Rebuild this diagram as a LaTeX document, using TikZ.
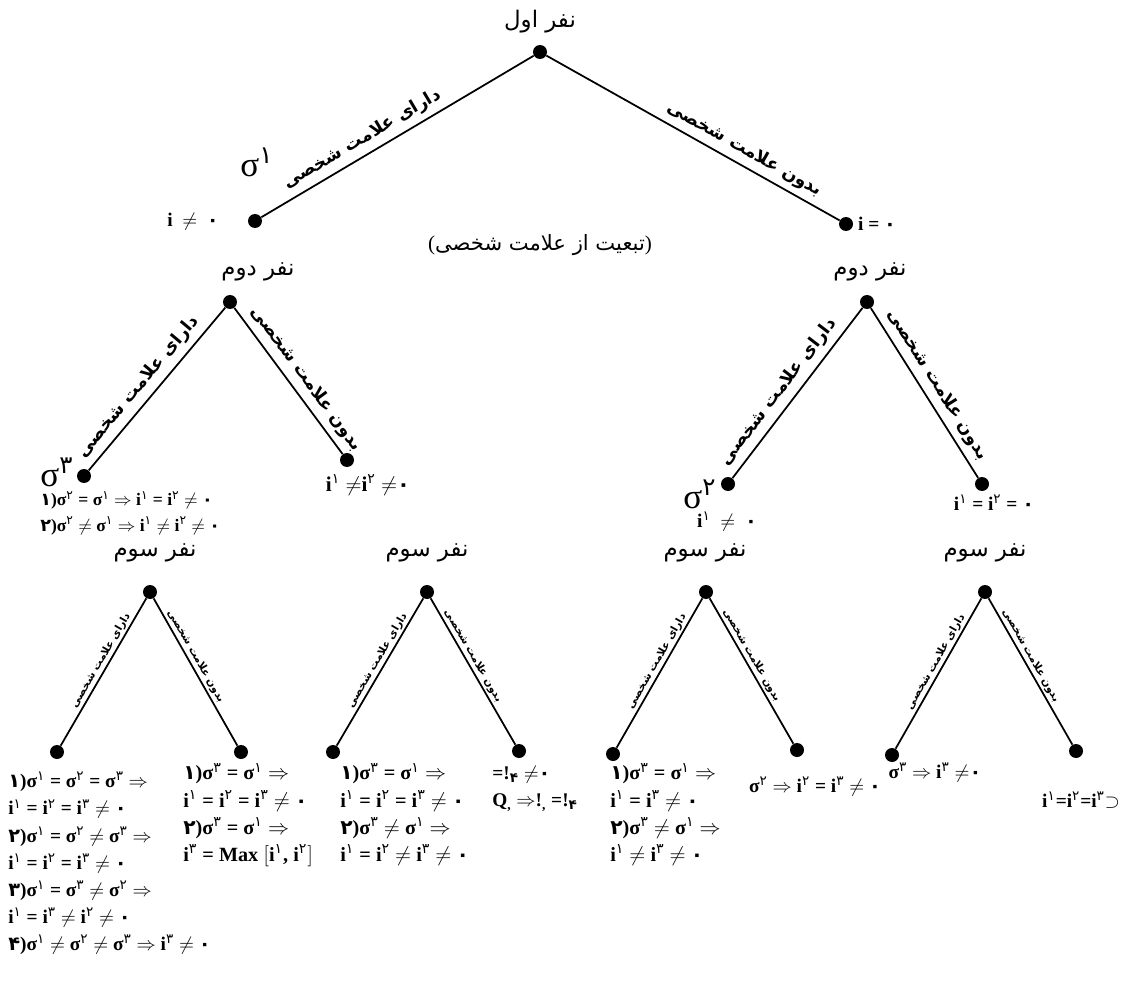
\documentclass[tikz,border=0pt]{standalone}
\usepackage{fontspec}
\setmainfont{Liberation Serif}
\newfontfamily\fa[Script=Arabic]{DejaVu Sans}
\TeXXeTstate=1
\newcommand{\sgm}[1]{σ\textsuperscript{\fa\mdseries #1}}
\newcommand{\isp}[1]{i\textsuperscript{\fa\mdseries #1}}

\begin{document}
\begin{tikzpicture}[x=0.02cm,y=-0.02cm,
  dot/.style={circle,fill,inner sep=0pt,minimum size=0.28cm},
  br/.style={line width=1pt},
  tag/.style={font=\fa\fontsize{13}{15}\selectfont},
  lab/.style={font=\fa\bfseries\fontsize{10}{12}\selectfont,sloped,above},
  labs/.style={font=\fa\bfseries\fontsize{6}{7}\selectfont,sloped,above,inner sep=1pt},
  eq/.style={font=\bfseries\fontsize{11}{15.4}\selectfont,align=left,inner sep=0pt},
  big/.style={font=\fontsize{20}{22}\selectfont,inner sep=0pt}]
  \useasboundingbox (0,0) rectangle (1123,990);
  \node[dot] (r) at (540,52) {};
  \node[tag] (rt) at (540,22) {\beginR نفر اول\endR};
  \node[dot] (a) at (255,221) {};
  \node[dot] (b) at (846,224) {};
  \draw[br] (a) -- (r) node[lab,pos=0.4]
       {\beginR دارای علامت شخصی\endR};
  \draw[br] (r) -- (b) node[lab,pos=0.65]
       {\beginR بدون علامت شخصی\endR};
  \node[big] (s1) at (257,162) {\sgm{۱}};
  \node[eq] (a0) at (193,222) {i \ $\neq$ \ {\fa۰}};
  \node[eq] (b0) at (877,224) {i = {\fa۰}};
  \node[tag,font=\fa\fontsize{12}{14}\selectfont] (t) at (540,245)
       {{\rmfamily(}\beginR تبعیت از علامت شخصی\endR{\rmfamily)}};

  \node[tag] (lt) at (258,272) {\beginR نفر دوم\endR};
  \node[dot] (l) at (230,302) {};
  \node[dot] (l1) at (84,476) {};
  \node[dot] (l2) at (347,460) {};
  \draw[br] (l1) -- (l) node[lab,pos=0.45]
       {\beginR دارای علامت شخصی\endR};
  \draw[br] (l) -- (l2) node[lab,pos=0.55]
       {\beginR بدون علامت شخصی\endR};
  \node[big] (s3) at (57,472) {\sgm{۳}};
  \node[eq,anchor=north west,font=\bfseries\fontsize{10}{14.5}\selectfont] (l1e) at (40,491)
       {{\fa۱})\sgm{۲} = \sgm{۱} $\Rightarrow$ \isp{۱} = \isp{۲} $\neq$ {\fa۰}\\
        {\fa۲})\sgm{۲} $\neq$ \sgm{۱} $\Rightarrow$ \isp{۱} $\neq$ \isp{۲} $\neq$ {\fa۰}};
  \node[eq,font=\bfseries\fontsize{12}{14}\selectfont] (l2e) at (368,485)
       {\isp{۱} $\neq$\isp{۲} $\neq${\fa۰}};

  \node[tag] (mt) at (870,272) {\beginR نفر دوم\endR};
  \node[dot] (m) at (867,302) {};
  \node[dot] (m1) at (728,484) {};
  \node[dot] (m2) at (982,484) {};
  \draw[br] (m1) -- (m) node[lab,pos=0.45]
       {\beginR دارای علامت شخصی\endR};
  \draw[br] (m) -- (m2) node[lab,pos=0.5]
       {\beginR بدون علامت شخصی\endR};
  \node[big] (s2) at (700,494) {\sgm{۲}};
  \node[eq] (m1e) at (727,522) {\isp{۱} \ $\neq$ \ {\fa۰}};
  \node[eq] (m2e) at (994,503) {\isp{۱} = \isp{۲} = {\fa۰}};

  \node[tag] (ct) at (155,553) {\beginR نفر سوم\endR};
  \node[dot] (c) at (150,592) {};
  \node[dot] (c1) at (57,752) {};
  \node[dot] (c2) at (241,752) {};
  \draw[br] (c1) -- (c) node[labs,pos=0.55]
       {\beginR دارای علامت شخصی\endR};
  \draw[br] (c) -- (c2) node[labs,pos=0.42]
       {\beginR بدون علامت شخصی\endR};
  \node[eq,anchor=north west] (c1e) at (8,772)
       {{\fa۱})\sgm{۱} = \sgm{۲} = \sgm{۳} $\Rightarrow$\\
        \isp{۱} = \isp{۲} = \isp{۳} $\neq$ {\fa۰}\\
        {\fa۲})\sgm{۱} = \sgm{۲} $\neq$ \sgm{۳} $\Rightarrow$\\
        \isp{۱} = \isp{۲} = \isp{۳} $\neq$ {\fa۰}\\
        {\fa۳})\sgm{۱} = \sgm{۳} $\neq$ \sgm{۲} $\Rightarrow$\\
        \isp{۱} = \isp{۳} $\neq$ \isp{۲} $\neq$ {\fa۰}\\
        {\fa۴})\sgm{۱} $\neq$ \sgm{۲} $\neq$ \sgm{۳} $\Rightarrow$ \isp{۳} $\neq$ {\fa۰}};
  \node[eq,anchor=north west,font=\bfseries\fontsize{11.5}{15.4}\selectfont] (c2e) at (183,763)
       {{\fa۱})\sgm{۳} = \sgm{۱} $\Rightarrow$\\
        \isp{۱} = \isp{۲} = \isp{۳} $\neq$ {\fa۰}\\
        {\fa۲})\sgm{۳} = \sgm{۱} $\Rightarrow$\\
        \isp{۳} = Max $\big[$\isp{۱}, \isp{۲}$\big]$};

  \node[tag] (dt) at (427,553) {\beginR نفر سوم\endR};
  \node[dot] (d) at (427,592) {};
  \node[dot] (d1) at (333,752) {};
  \node[dot] (d2) at (519,751) {};
  \draw[br] (d1) -- (d) node[labs,pos=0.55]
       {\beginR دارای علامت شخصی\endR};
  \draw[br] (d) -- (d2) node[labs,pos=0.42]
       {\beginR بدون علامت شخصی\endR};
  \node[eq,anchor=north west,font=\bfseries\fontsize{11.5}{15.4}\selectfont] (d1e) at (340,763)
       {{\fa۱})\sgm{۳} = \sgm{۱} $\Rightarrow$\\
        \isp{۱} = \isp{۲} = \isp{۳} $\neq$ {\fa۰}\\
        {\fa۲})\sgm{۳} $\neq$ \sgm{۱} $\Rightarrow$\\
        \isp{۱} = \isp{۲} $\neq$ \isp{۳} $\neq$ {\fa۰}};
  \node[eq,anchor=north west] (d2e) at (492,766)
       {=!\textsubscript{\fa۴} $\neq${\fa۰}\\
        Q\textsubscript{,} $\Rightarrow$!\textsubscript{,} =!\textsubscript{\fa۴}};

  \node[tag] (et) at (705,553) {\beginR نفر سوم\endR};
  \node[dot] (e) at (706,592) {};
  \node[dot] (e1) at (613,754) {};
  \node[dot] (e2) at (797,750) {};
  \draw[br] (e1) -- (e) node[labs,pos=0.55]
       {\beginR دارای علامت شخصی\endR};
  \draw[br] (e) -- (e2) node[labs,pos=0.42]
       {\beginR بدون علامت شخصی\endR};
  \node[eq,anchor=north west,font=\bfseries\fontsize{11.5}{15.4}\selectfont] (e1e) at (610,763)
       {{\fa۱})\sgm{۳} = \sgm{۱} $\Rightarrow$\\
        \isp{۱} = \isp{۳} $\neq$ {\fa۰}\\
        {\fa۲})\sgm{۳} $\neq$ \sgm{۱} $\Rightarrow$\\
        \isp{۱} $\neq$ \isp{۳} $\neq$ {\fa۰}};
  \node[eq] (e2e) at (815,787)
       {\sgm{۲} $\Rightarrow$ \isp{۲} = \isp{۳} $\neq$ {\fa۰}};

  \node[tag] (ft) at (985,553) {\beginR نفر سوم\endR};
  \node[dot] (f) at (985,592) {};
  \node[dot] (f1) at (892,755) {};
  \node[dot] (f2) at (1076,751) {};
  \draw[br] (f1) -- (f) node[labs,pos=0.55]
       {\beginR دارای علامت شخصی\endR};
  \draw[br] (f) -- (f2) node[labs,pos=0.42]
       {\beginR بدون علامت شخصی\endR};
  \node[eq] (f1e) at (935,773) {\sgm{۳} $\Rightarrow$ \isp{۳} $\neq${\fa۰}};
  \node[eq] (f2e) at (1081,800) {\isp{۱}=\isp{۲}=\isp{۳}$\supset$};
\end{tikzpicture}
\end{document}
